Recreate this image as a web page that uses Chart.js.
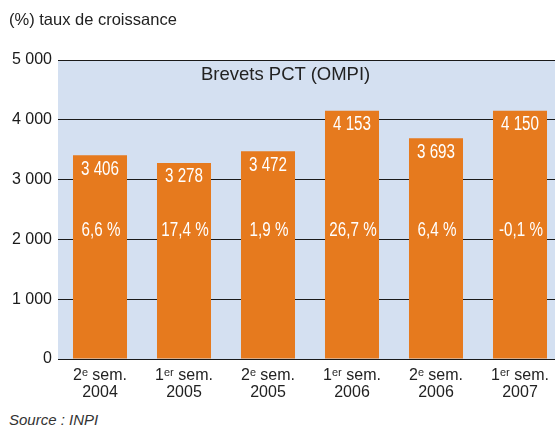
<!DOCTYPE html>
<html>
<head>
<meta charset="utf-8">
<script src="https://cdn.jsdelivr.net/npm/chart.js@4/dist/chart.umd.min.js"></script>
<style>
    html, body { margin: 0; padding: 0; background: #fff; overflow: hidden; width: 555px; height: 428px; }
    .wrap { position: relative; width: 555px; height: 428px; overflow: hidden; font-family: 'Liberation Sans', Arial, sans-serif; }
    .unit { position: absolute; left: 9px; top: 10px; font-size: 16.5px; color: #222; }
    .titre { position: absolute; left: 201px; top: 63px; font-size: 18.5px; color: #222; }
    .source { position: absolute; left: 9px; top: 411px; font-size: 15px; font-style: italic; color: #333; }
    canvas { position: absolute; left: 0; top: 0; }
</style>
</head>
<body>
<div class="wrap">
    <canvas id="chart" width="562" height="405"></canvas>
    <div class="unit">(%) taux de croissance</div>
    <div class="titre">Brevets PCT (OMPI)</div>
    <div class="source">Source : INPI</div>
</div>
<script>
// semestres
const categories = [
    ['2ᵉ sem.', '2004'],
    ['1ᵉʳ sem.', '2005'],
    ['2ᵉ sem.', '2005'],
    ['1ᵉʳ sem.', '2006'],
    ['2ᵉ sem.', '2006'],
    ['1ᵉʳ sem.', '2007']
];
// nombre de brevets PCT
const brevets = [3406, 3278, 3472, 4153, 3693, 4150];
// taux de croissance (%)
const croissance = [6.6, 17.4, 1.9, 26.7, 6.4, -0.1];
const yTicks = [0, 1000, 2000, 3000, 4000, 5000];

const ORANGE = '#e67a1e';
const FOND = '#d4e0f1';

function milliers(v) {
    return String(v).replace(/\B(?=(\d{3})+(?!\d))/g, ' ');
}

// fond bleu de la zone de tracé
const fondPlugin = {
    id: 'fond',
    beforeDraw(chart) {
        const { ctx, chartArea: a } = chart;
        ctx.save();
        ctx.fillStyle = FOND;
        ctx.fillRect(a.left, a.top, a.right - a.left, a.bottom - a.top);
        ctx.restore();
    }
};

// texte étroit : police normale comprimée horizontalement
function texteEtroit(ctx, txt, x, y) {
    ctx.save();
    ctx.translate(x, y);
    ctx.scale(0.76, 1);
    ctx.fillText(txt, 0, 0);
    ctx.restore();
}

// étiquettes blanches dans les barres
const etiquettesPlugin = {
    id: 'etiquettes',
    afterDatasetsDraw(chart) {
        const { ctx } = chart;
        const meta = chart.getDatasetMeta(0);
        const yPct = chart.scales.y.getPixelForValue(2150);
        ctx.save();
        ctx.fillStyle = '#ffffff';
        ctx.textAlign = 'center';
        ctx.textBaseline = 'middle';
        ctx.font = '20px "Liberation Sans", Arial, sans-serif';
        meta.data.forEach((bar, i) => {
            texteEtroit(ctx, milliers(brevets[i]), bar.x, bar.y + 14);
            texteEtroit(ctx, croissance[i].toFixed(1).replace('.', ',') + ' %', bar.x + 1, yPct);
        });
        ctx.restore();
    }
};

new Chart(document.getElementById('chart'), {
    type: 'bar',
    data: {
        labels: categories,
        datasets: [{
            data: brevets,
            backgroundColor: ORANGE,
            borderWidth: 0,
            categoryPercentage: 1,
            barPercentage: 0.643
        }]
    },
    options: {
        responsive: false,
        animation: false,
        layout: { padding: { top: 60, left: 0, right: 0, bottom: 0 } },
        plugins: {
            legend: { display: false },
            tooltip: { enabled: false }
        },
        scales: {
            x: {
                grid: { display: false, drawTicks: false },
                border: { display: false },
                afterFit(axis) { axis.height = 46; },
                ticks: {
                    padding: 8,
                    color: '#222',
                    maxRotation: 0,
                    autoSkip: false,
                    font: { family: "'Liberation Sans', Arial, sans-serif", size: 16, lineHeight: 1.05 }
                }
            },
            y: {
                min: 0,
                max: 5000,
                afterFit(axis) { axis.width = 58; },
                afterBuildTicks(axis) { axis.ticks = yTicks.map(v => ({ value: v })); },
                grid: { color: '#1a1a1a', lineWidth: 1, drawTicks: false },
                border: { display: false },
                ticks: {
                    padding: 6,
                    color: '#1a1a1a',
                    font: { family: "'Liberation Sans', Arial, sans-serif", size: 16 },
                    callback: v => milliers(v)
                }
            }
        }
    },
    plugins: [fondPlugin, etiquettesPlugin]
});
</script>
</body>
</html>
